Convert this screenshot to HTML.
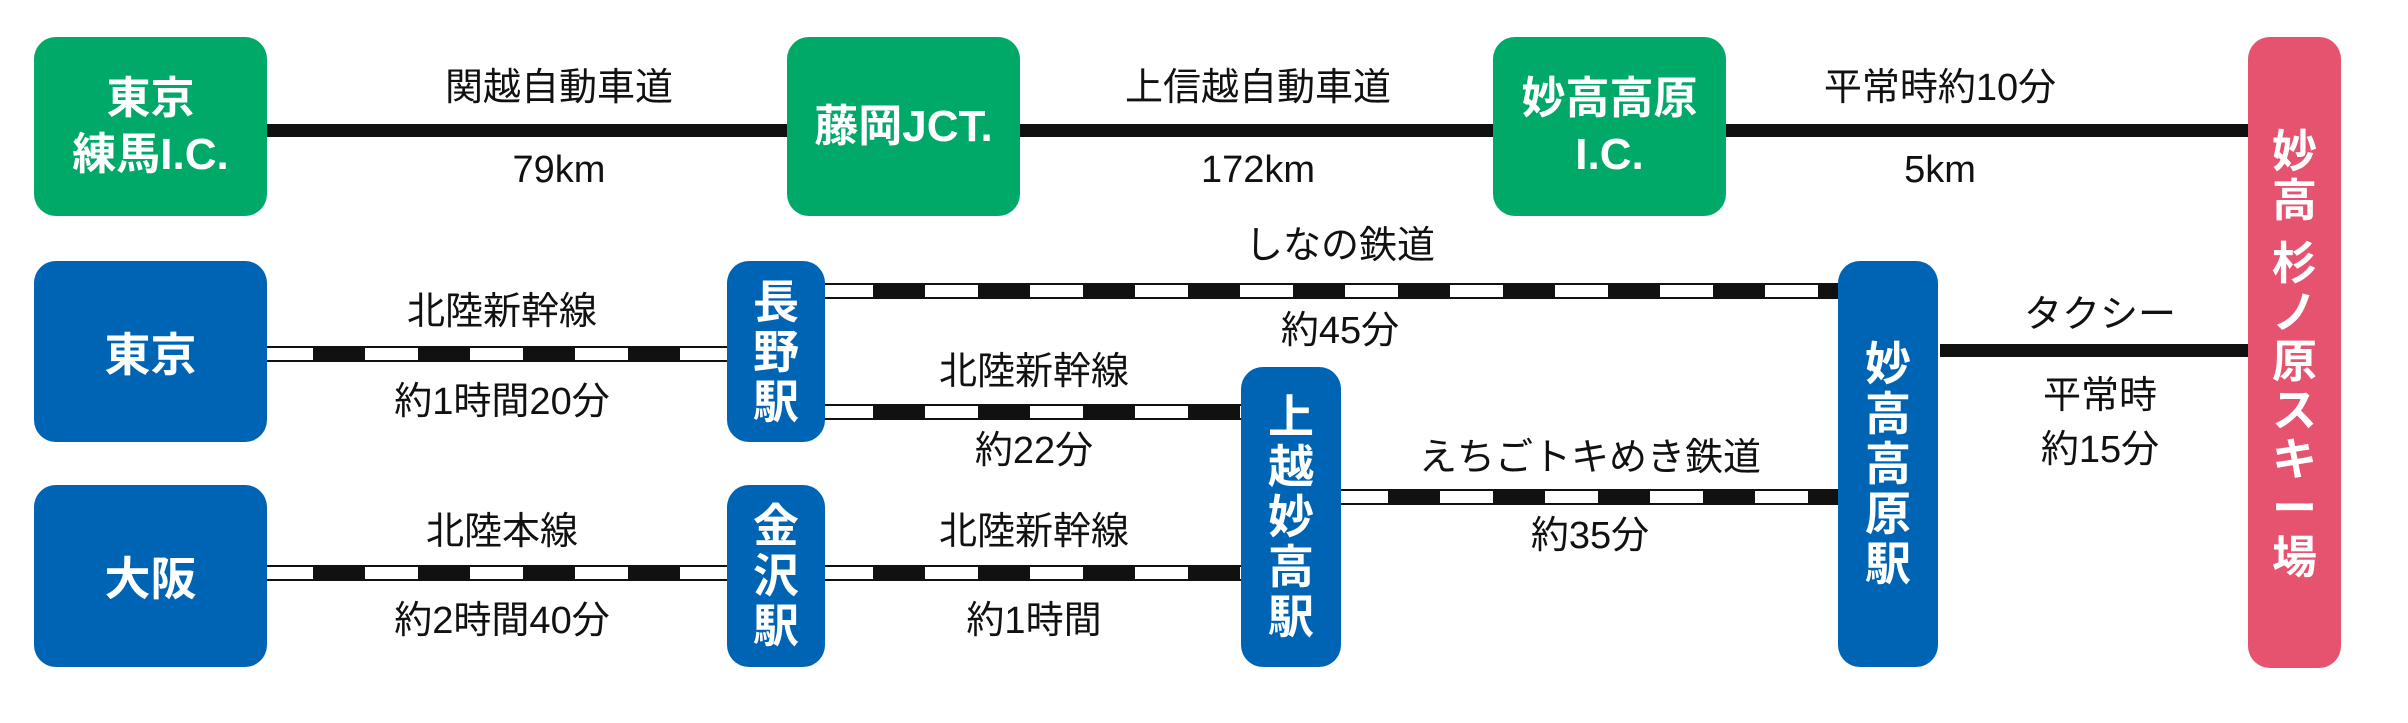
<!DOCTYPE html>
<html><head><meta charset="utf-8"><style>
body{margin:0;width:2408px;height:723px;background:#fff;position:relative;overflow:hidden;font-family:"Liberation Sans","Noto Sans CJK JP",sans-serif;}
.b{position:absolute;border-radius:22px;color:#fff;font-weight:bold;display:flex;align-items:center;justify-content:center;text-align:center;}
.g{background:#00a968;font-size:44px;line-height:56px;}
.bl{background:#0064b4;font-size:46px;}
.v{line-height:50px;font-size:46px;}
.pk{position:absolute;background:#e6536f;border-radius:22px;color:#fff;font-weight:bold;text-align:center;box-sizing:border-box;}
.hl{position:absolute;height:13px;background:#111;}
.r{position:absolute;height:12px;border-top:2px solid #111;border-bottom:2px solid #111;background:repeating-linear-gradient(90deg,#fff 0,#fff 53px,#111 53px,#111 105px);}
.t{position:absolute;font-size:38px;color:#111;transform:translateX(-50%);white-space:nowrap;line-height:40px;}
</style></head><body>
<div class="hl" style="left:260px;top:124px;width:2000px"></div>
<div class="b g" style="left:34px;top:37px;width:233px;height:179px">東京<br>練馬I.C.</div>
<div class="b g" style="left:787px;top:37px;width:233px;height:179px">藤岡JCT.</div>
<div class="b g" style="left:1493px;top:37px;width:233px;height:179px">妙高高原<br>I.C.</div>

<div class="r" style="left:260px;top:346px;width:480px"></div>
<div class="r" style="left:260px;top:565px;width:480px"></div>
<div class="r" style="left:820px;top:283px;width:1040px"></div>
<div class="r" style="left:820px;top:404px;width:430px"></div>
<div class="r" style="left:820px;top:565px;width:430px"></div>
<div class="r" style="left:1335px;top:489px;width:520px"></div>
<div class="hl" style="left:1940px;top:344px;width:320px"></div>

<div class="b bl" style="left:34px;top:261px;width:233px;height:181px">東京</div>
<div class="b bl" style="left:34px;top:485px;width:233px;height:182px">大阪</div>
<div class="b bl v" style="left:727px;top:261px;width:98px;height:181px">長<br>野<br>駅</div>
<div class="b bl v" style="left:727px;top:485px;width:98px;height:182px">金<br>沢<br>駅</div>
<div class="b bl v" style="left:1241px;top:367px;width:100px;height:300px">上<br>越<br>妙<br>高<br>駅</div>
<div class="b bl v" style="left:1838px;top:261px;width:100px;height:406px">妙<br>高<br>高<br>原<br>駅</div>
<div class="pk" style="left:2248px;top:37px;width:93px;height:631px;font-size:45px;line-height:49px;padding-top:90px">妙<br>高<div style="height:14px"></div>杉<br>ノ<br>原<br>ス<br>キ<br>ー<br>場</div>

<div class="t" style="left:559px;top:68px">関越自動車道</div>
<div class="t" style="left:559px;top:150px">79km</div>
<div class="t" style="left:1258px;top:68px">上信越自動車道</div>
<div class="t" style="left:1258px;top:150px">172km</div>
<div class="t" style="left:1940px;top:68px">平常時約10分</div>
<div class="t" style="left:1940px;top:150px">5km</div>

<div class="t" style="left:502px;top:292px">北陸新幹線</div>
<div class="t" style="left:502px;top:382px">約1時間20分</div>
<div class="t" style="left:1340px;top:226px">しなの鉄道</div>
<div class="t" style="left:1340px;top:311px">約45分</div>
<div class="t" style="left:1034px;top:352px">北陸新幹線</div>
<div class="t" style="left:1034px;top:431px">約22分</div>
<div class="t" style="left:1590px;top:438px">えちごトキめき鉄道</div>
<div class="t" style="left:1590px;top:516px">約35分</div>
<div class="t" style="left:502px;top:512px">北陸本線</div>
<div class="t" style="left:502px;top:601px">約2時間40分</div>
<div class="t" style="left:1034px;top:512px">北陸新幹線</div>
<div class="t" style="left:1034px;top:601px">約1時間</div>
<div class="t" style="left:2100px;top:295px">タクシー</div>
<div class="t" style="left:2100px;top:376px">平常時</div>
<div class="t" style="left:2100px;top:430px">約15分</div>
</body></html>
